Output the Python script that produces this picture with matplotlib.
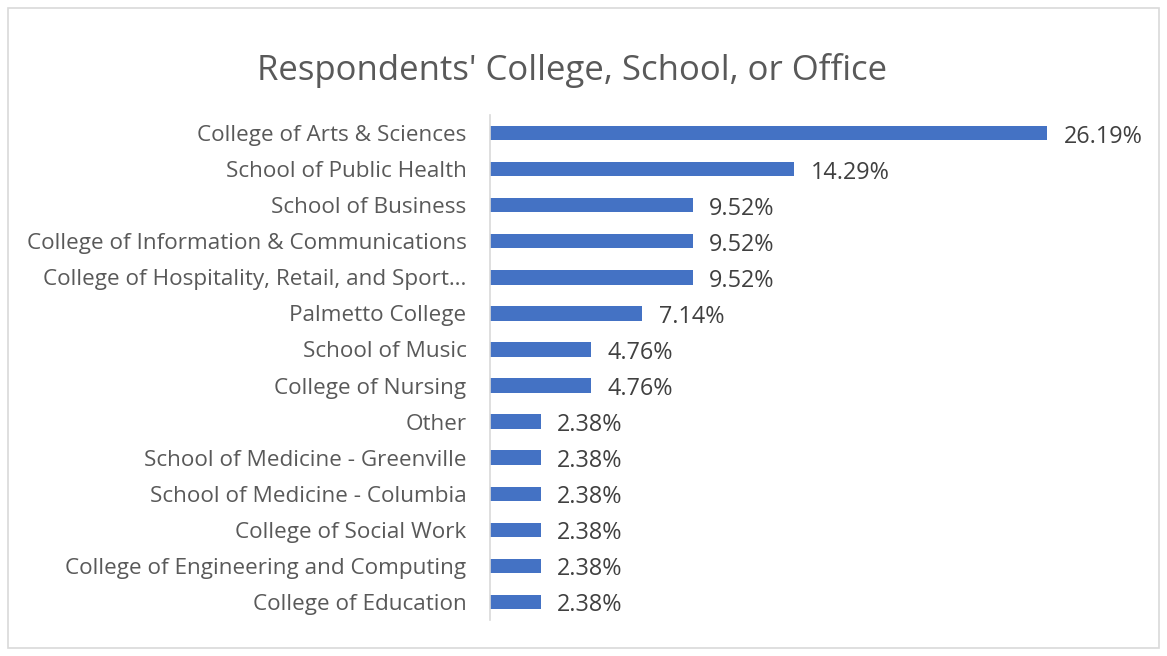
import matplotlib.pyplot as plt
from matplotlib.patches import Rectangle

# Chart data
categories = [
    "College of Arts & Sciences",
    "School of Public Health",
    "School of Business",
    "College of Information & Communications",
    "College of Hospitality, Retail, and Sport…",
    "Palmetto College",
    "School of Music",
    "College of Nursing",
    "Other",
    "School of Medicine - Greenville",
    "School of Medicine - Columbia",
    "College of Social Work",
    "College of Engineering and Computing",
    "College of Education",
]
percents = [26.19, 14.29, 9.52, 9.52, 9.52, 7.14, 4.76, 4.76,
            2.38, 2.38, 2.38, 2.38, 2.38, 2.38]

plt.rcParams["font.family"] = ["Open Sans", "DejaVu Sans"]

fig = plt.figure(figsize=(11.67, 6.56), dpi=100)
fig.patches.append(Rectangle((0.007, 0.012), 0.986, 0.976, transform=fig.transFigure,
                             fill=False, edgecolor="#d9d9d9", linewidth=1.2))

ax = fig.add_axes([0.4199, 0.0549, 0.5468, 0.7698])
y = list(range(len(categories)))
ax.barh(y, percents, height=0.4, color="#4472c4")
ax.set_ylim(len(categories) - 0.5, -0.5)
ax.set_xlim(0, 30)

ax.set_yticks(y)
ax.set_yticklabels(categories, fontsize=16.2, color="#595959")
ax.tick_params(axis="y", length=0, pad=17)
ax.set_xticks([])

for s in ["top", "right", "bottom"]:
    ax.spines[s].set_visible(False)
ax.spines["left"].set_color("#d9d9d9")
ax.spines["left"].set_linewidth(1.2)

for yi, v in zip(y, percents):
    ax.annotate(f"{v:.2f}%", (v, yi), xytext=(12, -2.5), textcoords="offset points",
                va="center", ha="left", fontsize=16.8, color="#404040")

fig.text(0.49, 0.893, "Respondents' College, School, or Office", ha="center",
         va="center", fontsize=25, color="#595959")

fig.savefig("out.png", dpi=100)
